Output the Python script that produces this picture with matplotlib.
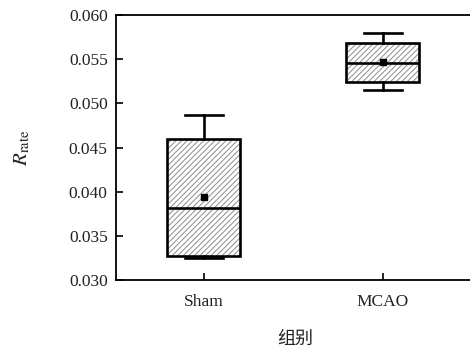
import matplotlib
matplotlib.use("Agg")
import matplotlib.pyplot as plt
from matplotlib.patches import PathPatch

# Group labels and box statistics for R_rate
groups = ["Sham", "MCAO"]
whisker_low = [0.0325, 0.0515]
q1 = [0.0327, 0.0524]
median = [0.0381, 0.0546]
q3 = [0.0460, 0.0568]
whisker_high = [0.0487, 0.0580]
mean = [0.0394, 0.0547]

y_ticks = [0.030, 0.035, 0.040, 0.045, 0.050, 0.055, 0.060]

plt.rcParams["mathtext.fontset"] = "stix"
plt.rcParams["hatch.linewidth"] = 0.7
serif = ["Liberation Serif", "DejaVu Serif"]
text_color = "#222222"

fig = plt.figure(figsize=(4.70, 3.54), dpi=100)
ax = fig.add_axes([116 / 470, 74 / 354, 358 / 470, 265 / 354])

stats = []
for i, g in enumerate(groups):
    stats.append(dict(label=g, whislo=whisker_low[i], q1=q1[i], med=median[i],
                      q3=q3[i], whishi=whisker_high[i], mean=mean[i], fliers=[]))

positions = list(range(1, len(groups) + 1))
art = ax.bxp(stats, positions=positions, widths=0.41, capwidths=0.21,
             showmeans=True, patch_artist=True, showfliers=False,
             boxprops=dict(facecolor="white", edgecolor="#8c8c8c", linewidth=0),
             medianprops=dict(color="black", linewidth=1.9, zorder=4),
             whiskerprops=dict(color="black", linewidth=1.9),
             capprops=dict(color="black", linewidth=1.9),
             meanprops=dict(marker="s", markerfacecolor="black",
                            markeredgecolor="black", markersize=4.5, zorder=5))
for box in art["boxes"]:
    box.set_hatch("/" * 6)
    # black outline drawn over the grey hatched fill
    ax.add_patch(PathPatch(box.get_path(), fill=False, edgecolor="black",
                           linewidth=1.9, zorder=3))

ax.set_xlim(0.51, 2.51)
ax.set_ylim(0.030, 0.060)
ax.set_yticks(y_ticks)
ax.set_yticklabels([f"{v:.3f}" for v in y_ticks], fontfamily=serif, fontsize=12.5)
ax.set_xticks(positions)
ax.set_xticklabels(groups, fontfamily=serif, fontsize=12.5)

ax.tick_params(axis="both", direction="in", length=5, width=1.2,
               color="black", labelcolor=text_color)
ax.tick_params(axis="y", pad=6)
ax.tick_params(axis="x", pad=10)
for s in ax.spines.values():
    s.set_linewidth(1.3)

ax.set_ylabel(r"$R_{\mathrm{rate}}$", fontsize=15, color=text_color)
ax.yaxis.set_label_coords(-0.235, 0.5)
ax.set_xlabel("组别", fontfamily=["Noto Sans CJK SC", "DejaVu Sans"],
              fontsize=13, color=text_color)
ax.xaxis.set_label_coords(0.5, -0.19)

fig.savefig("out.png", dpi=100)
